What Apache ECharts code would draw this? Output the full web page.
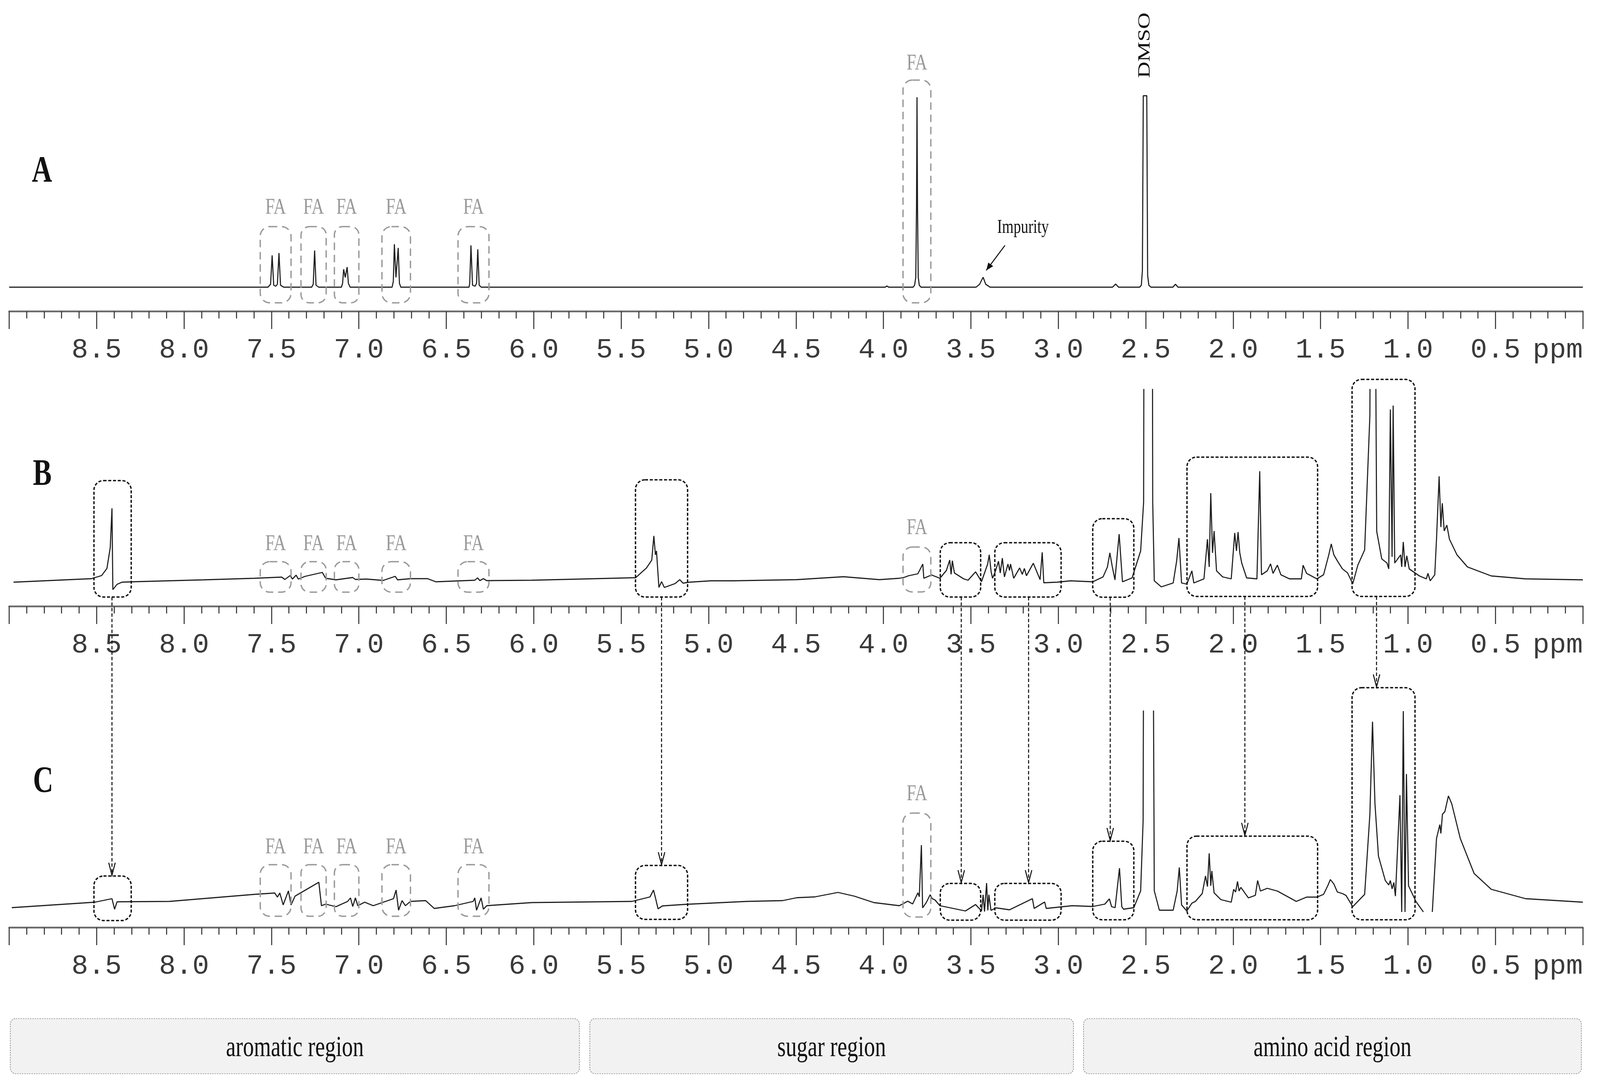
<!DOCTYPE html>
<html><head><meta charset="utf-8">
<script src="https://cdn.jsdelivr.net/npm/echarts@6.0.0/dist/echarts.min.js"></script>
<style>html,body{margin:0;padding:0;background:#fff;overflow:hidden}#c{width:100vw;height:100vh}</style>
</head><body><div id="c"></div>
<script>
// ---- tick labels (ppm) ----
const tickLabels = ['8.5','8.0','7.5','7.0','6.5','6.0','5.5','5.0','4.5','4.0','3.5','3.0','2.5','2.0','1.5','1.0','0.5'];

// ---- spectrum A : [ppm, intensity] ----
const specA = [
[9.0,0],[7.52,0],[7.505,1.5],[7.496,16.3],[7.487,1],[7.475,0.5],[7.466,1.5],[7.457,17.5],[7.448,1],[7.43,0],
[7.27,0],[7.261,1.5],[7.253,18.8],[7.245,1],[7.23,0],
[7.10,0],[7.093,2],[7.087,9.2],[7.078,5],[7.067,10.3],[7.060,2],[7.05,0],
[6.81,0],[6.803,3],[6.797,22],[6.788,5],[6.775,20.1],[6.768,2],[6.76,0],
[6.37,0],[6.366,2],[6.359,21.4],[6.35,1],[6.335,0.5],[6.327,2],[6.320,19.4],[6.312,1],[6.30,0],
[3.99,0],[3.98,0.6],[3.97,0],
[3.83,0],[3.822,1],[3.815,5],[3.811,40],[3.808,97.2],[3.805,40],[3.801,5],[3.795,1],[3.785,0],
[3.47,0],[3.45,1.5],[3.43,5.1],[3.415,1.5],[3.39,0],
[2.69,0],[2.672,1.6],[2.655,0],
[2.535,0],[2.525,1],[2.519,8.6],[2.514,98],[2.494,98],[2.489,6],[2.482,1],[2.47,0],
[2.345,0],[2.33,1.5],[2.315,0],
[0,0]
];

// ---- spectrum B ----
const specB = [
[8.975,-1],[8.529,0.8],[8.471,2.4],[8.441,6],[8.422,16.6],[8.412,36.8],[8.407,-4.8],[8.383,-2.1],[8.355,-1.0],[8.296,-0.8],
[7.888,0.2],[7.598,1.0],[7.442,1.6],[7.423,0.4],[7.393,2.4],[7.380,0.6],[7.359,2.6],[7.346,0.6],[7.307,2],[7.209,4],[7.19,1.0],[7.131,0.2],
[7.035,1.4],[7.020,0.4],[6.957,0.6],[6.861,-0.1],[6.792,2],[6.779,0.2],[6.705,0.8],[6.607,0.8],[6.560,-0.8],[6.337,0],[6.321,1.2],[6.308,-0.2],[6.288,0.8],[6.269,-0.2],
[6.011,0],[5.417,1.3],[5.355,6.3],[5.325,10.3],[5.313,22.7],[5.304,13],[5.298,15],[5.284,-3.7],[5.269,-0.7],[5.253,-3.7],[5.191,-1.7],[5.165,0.3],[5.146,-1.5],[5.110,-1.0],
[4.987,-0.3],[4.863,-0.3],[4.495,0.3],[4.229,1.8],[4.023,0.3],[3.909,1],
[3.88,1.5],[3.856,2.3],[3.803,3.3],[3.775,8.3],[3.769,1],[3.725,2.7],[3.677,1.0],[3.640,5.0],[3.621,10.3],[3.613,3],[3.606,10],[3.594,3.7],[3.541,0.7],[3.516,0],
[3.473,4.3],[3.439,-0.7],[3.404,8.3],[3.395,13],[3.384,4.3],[3.376,1.0],[3.361,4.3],[3.342,9.7],[3.332,3.7],[3.320,11.3],[3.308,1.7],[3.288,8.3],[3.279,5],[3.273,8.3],
[3.255,1],[3.221,6.3],[3.206,3],[3.194,6],[3.182,2.3],[3.143,8.7],[3.104,0.3],[3.092,14.3],[3.083,-1.3],[3.007,-1],[2.93,-0.3],[2.803,-0.8],
[2.744,1.7],[2.719,6.8],[2.705,14],[2.692,7.3],[2.676,0.2],[2.652,23.6],[2.633,-0.8],[2.578,1.2],[2.529,15],[2.512,40],[2.507,300],[2.465,300],[2.460,40],[2.451,-0.3],
[2.411,-3.4],[2.343,-1.4],[2.323,9.9],[2.310,21.6],[2.295,-1.4],[2.265,-2],[2.236,4.8],[2.225,-1.4],[2.167,0.7],[2.147,21],[2.137,6.8],[2.128,44.6],[2.118,14],[2.109,25.2],[2.095,4.8],
[2.06,1.7],[2.011,0.7],[1.991,24.2],[1.981,15],[1.972,24.7],[1.962,14],[1.951,8.8],[1.923,1.2],[1.864,0.7],[1.848,55.8],[1.838,2.8],[1.805,4.8],[1.786,8.4],[1.772,3.5],
[1.747,7.7],[1.727,2.8],[1.678,0.7],[1.61,0.7],[1.600,7.7],[1.58,3.5],[1.521,0.7],[1.483,2.8],[1.453,13],[1.439,18.6],[1.424,13],[1.404,9.9],[1.375,5.8],[1.346,3.8],[1.316,-1.8],
[1.287,7.7],[1.248,15.5],[1.218,84.4],[1.209,300],[1.197,300],[1.179,25],[1.150,10.9],[1.120,8.8],[1.110,5.8],[1.101,87.4],[1.091,12],[1.085,89.4],[1.076,8.8],
[1.042,13],[1.036,6.8],[1.027,19.6],[1.017,6.8],[1.007,12.5],[0.993,5.8],[0.935,2.2],[0.895,0.7],[0.886,3.5],[0.873,-0.3],[0.847,2.8],[0.837,21],[0.822,53.2],[0.812,27.2],
[0.804,39.4],[0.793,25.2],[0.778,28.2],[0.763,21],[0.720,13],[0.660,6.8],[0.524,2.2],[0.328,0.7],[0,0.2]
];

// ---- spectrum C ----
const specC = [
[8.985,-0.6],[8.51,2.2],[8.412,4.0],[8.397,-1.4],[8.383,2.4],[8.083,2.6],[7.598,6.2],[7.481,6.9],[7.466,4.8],[7.452,6.9],[7.433,0.8],[7.403,8],[7.388,0.8],[7.365,5.3],
[7.229,12.4],[7.214,0.4],[7.19,1.2],[7.131,-0.1],[7.064,2.6],[7.048,4.4],[7.035,0],[7.020,4.4],[7.006,0.4],[6.967,2.2],[6.918,0.4],[6.802,4.0],[6.787,8.4],[6.773,-1.9],
[6.753,3.0],[6.734,0.4],[6.705,2.6],[6.618,3.0],[6.569,-1.0],[6.453,0.4],[6.346,2.6],[6.337,4.4],[6.327,-1.9],[6.301,4.4],[6.288,-1.4],[6.269,0.4],[6.239,0.6],[6.011,2.0],
[5.438,2.6],[5.335,4.9],[5.315,8.4],[5.304,4.5],[5.289,-1.2],[5.264,0.3],[5.130,1.1],[4.782,2.6],[4.577,3.0],[4.495,4.5],[4.393,4.9],[4.260,7.2],[4.167,5.3],[4.055,2],
[3.909,0.4],[3.861,2.7],[3.833,1.3],[3.803,7],[3.795,5],[3.783,31.4],[3.776,-0.7],[3.755,2],[3.733,6],[3.721,4],[3.706,3.4],[3.677,0.4],[3.531,-2.3],[3.473,1],
[3.439,-2.3],[3.430,6],[3.422,-2.6],[3.410,12],[3.403,-2],[3.397,6],[3.385,-2],[3.356,-0.7],[3.279,-1.7],[3.148,4],[3.138,-1],[3.078,2.3],[3.069,-1],[2.920,0.4],[2.803,0],
[2.734,1.2],[2.708,3.9],[2.695,-0.1],[2.675,-0.6],[2.650,19.6],[2.637,-0.1],[2.627,-1.4],[2.568,-0.6],[2.529,8],[2.515,43.6],[2.507,300],[2.465,300],[2.451,8],[2.422,-1.9],
[2.343,-1.9],[2.320,8],[2.308,20],[2.295,0.8],[2.265,-2.3],[2.236,1.7],[2.216,2.6],[2.177,6.6],[2.158,15.6],[2.147,10.2],[2.137,27.2],[2.128,10.6],[2.122,18.2],[2.109,7],
[2.070,3.5],[2.011,2.2],[1.997,8.8],[1.986,7.4],[1.975,12.8],[1.966,7.9],[1.956,9.8],[1.913,4.4],[1.873,5.7],[1.860,13.3],[1.844,7.9],[1.805,9.3],[1.747,7.9],[1.639,2.6],
[1.580,4.8],[1.521,4.8],[1.483,6.2],[1.459,10.6],[1.444,13.8],[1.424,11.5],[1.404,7.4],[1.375,6.6],[1.355,5.7],[1.316,-0.1],[1.287,2.6],[1.248,6.2],[1.218,47.2],[1.203,94.6],
[1.189,52.6],[1.169,25.8],[1.130,13.3],[1.110,11],[1.101,13.3],[1.091,9],[1.081,12.3],[1.072,5.3],[1.046,57],[1.036,-2.8],[1.027,100],[1.017,-2.8],[1.009,67.8],[0.997,10.6],
[0.955,2.6],[0.912,-2.8],[0.887,'-'],[0.861,-2.8],[0.837,34.8],[0.818,41.9],[0.812,37.4],[0.803,47.2],[0.789,48.6],[0.769,56.6],[0.750,52.6],[0.701,34.8],[0.622,16.9],
[0.524,8.8],[0.328,4],[0,2.2]
];

// ---- annotations (ppm ranges / intensity levels) ----
const faAromatic = [[7.564,7.388],[7.331,7.187],[7.140,7.000],[6.868,6.705],[6.433,6.256]];
const faMethoxy = [3.888,3.729];
// per panel: [aromatic box top, bottom, label y, methoxy box top, bottom, label y]
const faLevels = [[31,-8,40.6,106,-8,114.4],[9.5,-6.1,18.4,17,-6,26.6],[21.4,-5,30.2,47.8,-5.4,57.4]];
// [ppmLeft, ppmRight, B top, B bottom, C top, C bottom, arrow ppm]
const linkBoxes = [
 [8.515,8.302,51,-8.6,15.6,-7.2,8.412],
 [5.418,5.120,51.4,-8.6,21,-6.6,5.269],
 [3.675,3.444,19.2,-8.6,11.8,-7,3.555],
 [3.363,2.984,19.2,-8.6,11.8,-7,3.170],
 [2.803,2.568,31.5,-8.7,33.4,-6.8,2.703],
 [2.264,1.517,63,-8.3,36,-6.8,1.933],
 [1.320,0.960,102.8,-8.3,112,-6.8,1.180]
];
const regionNames = ['aromatic region','sugar region','amino acid region'];
const panelNames = ['A','B','C'];

const el = document.getElementById('c');
const chart = echarts.init(el);
const W = chart.getWidth(), H = chart.getHeight();
const SX = W/5415, SY = H/2782, SF = Math.sqrt(SX*SY), KX = SX/SY;

const gridDefs = [
 {left:31*SX, right:58*SX, top:200*SY, height:597*SY},
 {left:31*SX, right:58*SX, top:997*SY, height:555*SY},
 {left:31*SX, right:58*SX, top:1820*SY, height:554*SY}
];
const yRanges = [[-12.4,107],[-13.4,97.6],[-10.8,100]];
const specs = [specA, specB, specC];
const monoFont = 'Liberation Mono';
const tickFont = 82*SF, labelMargin = 64*SY;

const xAxes = gridDefs.map((g,i)=>({
  type:'value', gridIndex:i, min:0, max:9, interval:0.5, inverse:true,
  axisLine:{show:true, onZero:false, lineStyle:{color:'#6a6a6a', width:5*SF}},
  axisTick:{show:true, inside:false, length:45*SY, lineStyle:{color:'#333', width:3*SF}},
  minorTick:{show:true, splitNumber:5, length:18*SY, lineStyle:{color:'#333', width:3*SF}},
  splitLine:{show:false}, minorSplitLine:{show:false},
  axisLabel:{show:true, margin:labelMargin, fontFamily:monoFont, fontSize:tickFont, color:'#3a3a3a',
    showMinLabel:true, showMaxLabel:true,
    formatter: v => { const s = Number(v).toFixed(1); return tickLabels.indexOf(s) >= 0 ? s : ''; } }
}));
const yAxes = gridDefs.map((g,i)=>({type:'value', gridIndex:i, min:yRanges[i][0], max:yRanges[i][1], show:false}));
const series = specs.map((d,i)=>({
  type:'line', xAxisIndex:i, yAxisIndex:i, data:d, showSymbol:false, symbol:'none',
  clip:true, connectNulls:false, animation:false,
  lineStyle:{color:'#1e1e1e', width:3.2*SF}
}));

chart.setOption({
  animation:false, backgroundColor:'#fff',
  grid:gridDefs, xAxis:xAxes, yAxis:yAxes, series:series
});

function px(i, x, y){ return chart.convertToPixel({gridIndex:i}, [x,y]); }
const G = [];
function rrect(p1, p2, stroke, dash, lw){
  const x = Math.min(p1[0],p2[0]), y = Math.min(p1[1],p2[1]);
  const w = Math.abs(p2[0]-p1[0]), h = Math.abs(p2[1]-p1[1]);
  const r = Math.min(28*SF, w/3, h/3);
  G.push({type:'rect', z:10, shape:{x:x,y:y,width:w,height:h,r:r},
    style:{fill:'none', stroke:stroke, lineWidth:lw*SF, lineDash:dash.map(d=>d*SF)}});
}
// serif text sized on the vertical scale, condensed horizontally to keep reference proportions
function text(x,y,t,size,weight,fill,rotated){
  const o = {type:'text', z:12, x:x, y:y,
    style:{text:t, font:weight+' '+(size*SY)+'px "Liberation Serif"', fill:fill,
      align:'center', verticalAlign:'middle', textAlign:'center', textVerticalAlign:'middle'}};
  if (rotated){ o.rotation = Math.PI/2; o.scaleY = KX; } else { o.scaleX = KX; }
  G.push(o);
}

// FA boxes and labels
for (let i=0;i<3;i++){
  const L = faLevels[i];
  faAromatic.forEach(b=>{
    rrect(px(i,b[0],L[0]), px(i,b[1],L[1]), '#9a9a9a', [22,14], 4);
    const c = px(i,(b[0]+b[1])/2, L[2]);
    text(c[0], c[1], 'FA', 58, 'normal', '#999');
  });
  rrect(px(i,faMethoxy[0],L[3]), px(i,faMethoxy[1],L[4]), '#9a9a9a', [22,14], 4);
  const c = px(i,(faMethoxy[0]+faMethoxy[1])/2, L[5]);
  text(c[0], c[1], 'FA', 58, 'normal', '#999');
}

// black linked boxes and dashed arrows from B to C
linkBoxes.forEach(b=>{
  rrect(px(1,b[0],b[2]), px(1,b[1],b[3]), '#111', [9,5], 4);
  rrect(px(2,b[0],b[4]), px(2,b[1],b[5]), '#111', [9,5], 4);
  const s = px(1,b[6],b[3]);
  const e = px(2,b[6],b[4]);
  G.push({type:'line', z:11, shape:{x1:s[0],y1:s[1],x2:e[0],y2:e[1]-4*SY},
    style:{stroke:'#111', lineWidth:3*SF, lineDash:[10*SF,6*SF]}});
  G.push({type:'polyline', z:11, shape:{points:[[e[0]-11*SX,e[1]-34*SY],[e[0],e[1]-2*SY],[e[0]+11*SX,e[1]-34*SY]]},
    style:{stroke:'#111', lineWidth:3*SF, fill:'none'}});
});

// DMSO label (rotated)
{ const p = px(0, 2.504, 123.8);
  text(p[0], p[1], 'DMSO', 58, 'normal', '#111', true); }
// Impurity label and arrow
{ const p = px(0, 3.202, 30.4);
  text(p[0], p[1], 'Impurity', 50, 'normal', '#111');
  const s = px(0, 3.305, 21.4), e = px(0, 3.412, 8.6);
  G.push({type:'line', z:11, shape:{x1:s[0],y1:s[1],x2:e[0],y2:e[1]}, style:{stroke:'#111', lineWidth:3*SF}});
  const ang = Math.atan2(e[1]-s[1], e[0]-s[0]);
  const hl = 22*SF, hw = 9*SF;
  const bx = e[0]-hl*Math.cos(ang), by = e[1]-hl*Math.sin(ang);
  G.push({type:'polygon', z:11, shape:{points:[[e[0],e[1]],[bx+hw*Math.sin(ang), by-hw*Math.cos(ang)],[bx-hw*Math.sin(ang), by+hw*Math.cos(ang)]]},
    style:{fill:'#111'}});
}

// panel letters and ppm labels
const letterPos = [[142,440],[143,1216],[146,2002]];
panelNames.forEach((n,i)=>{
  text(letterPos[i][0]*SX, letterPos[i][1]*SY, n, 95, 'bold', '#111');
  const a = px(i, 0, yRanges[i][0]);
  G.push({type:'text', z:12, x:a[0], y:a[1]+labelMargin,
    style:{text:'ppm', font:tickFont+'px "'+monoFont+'"', fill:'#3a3a3a', align:'right', verticalAlign:'top', textAlign:'right', textVerticalAlign:'top'}});
});

// region boxes at bottom
const regionPx = [[35,1961],[1996,3633],[3667,5352]];
regionNames.forEach((n,i)=>{
  const r = regionPx[i];
  G.push({type:'rect', z:5, shape:{x:r[0]*SX, y:2607*SY, width:(r[1]-r[0])*SX, height:141*SY, r:16*SF},
    style:{fill:'#f2f2f2', stroke:'#8a8a8a', lineWidth:2*SF, lineDash:[4*SF,3*SF]}});
  text((r[0]+r[1])/2*SX, 2684*SY, n, 74, 'normal', '#111');
});

chart.setOption({graphic:{elements:G}});
</script>
</body></html>
